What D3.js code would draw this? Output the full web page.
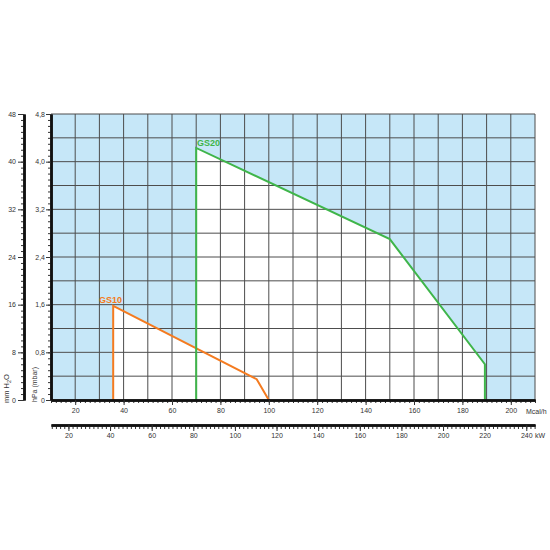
<!DOCTYPE html>
<html>
<head>
  <meta charset="utf-8">
  <title>GS10 / GS20 working range</title>
  <script src="https://d3js.org/d3.v7.min.js"></script>
  <style>
    body { margin: 0; background: white; }
    text { font-family: 'Liberation Sans', Arial, sans-serif; }
    .tick text { fill: #333; font-size: 7px; }
    .axis .domain { stroke: #111; stroke-width: 2.5px; }
    .axis .tick line { stroke: #333; }
    .grid line { stroke: #4d4d4d; stroke-width: 1px; }
  </style>
</head>
<body>
<div id="chart"></div>
<script type="text/javascript">
var width = 550;
var height = 550;

// burner curves (Mcal/h against hPa)
var gs10Mcal = [35.7, 35.7, 95, 100];
var gs10Hpa  = [0, 1.58, 0.35, 0];
var gs20Mcal = [70, 70, 150, 189.3, 189.3];
var gs20Hpa  = [0, 4.23, 2.7, 0.6, 0];

// curve labels, anchored at a data point
var seriesNames = ["GS10", "GS20"];
var seriesColors = ["#f47b20", "#3fb54a"];
var labelMcal = [29.8, 70.3];
var labelHpa  = [1.63, 4.27];

// tick values
var mcalTicks = [20, 40, 60, 80, 100, 120, 140, 160, 180, 200];
var kwTicks   = [20, 40, 60, 80, 100, 120, 140, 160, 180, 200, 220, 240];
var hpaTicks  = [0, 0.8, 1.6, 2.4, 3.2, 4.0, 4.8];
var mmTicks   = [0, 8, 16, 24, 32, 40, 48];

var svg = d3.select("#chart").append("svg").attr("width", width).attr("height", height);

// scales
var x = d3.scaleLinear().domain([10, 210]).range([51, 535]);
var y = d3.scaleLinear().domain([0, 4.8]).range([400, 114]);
var yMm = d3.scaleLinear().domain([0, 48]).range([400, 114]);
var xKw = d3.scaleLinear().domain([10 / 0.86, 210 / 0.86]).range([51, 535]);

// blue background of the plot
svg.append("rect")
  .attr("x", x(10)).attr("y", y(4.8))
  .attr("width", x(210) - x(10)).attr("height", y(0) - y(4.8))
  .attr("fill", "#c6e7f8");

// white working areas
function toPoints(xs, ys) {
  return xs.map(function(v, i) { return [x(v), y(ys[i])]; });
}
var areas = [toPoints(gs10Mcal, gs10Hpa), toPoints(gs20Mcal, gs20Hpa)];
svg.selectAll(".area")
  .data(areas)
  .enter()
  .append("path")
  .attr("class", "area")
  .attr("d", function(d) { return d3.line()(d) + "Z"; })
  .attr("fill", "white");

// grid
var grid = svg.append("g").attr("class", "grid");
grid.selectAll(".v")
  .data(d3.range(20, 211, 10))
  .enter()
  .append("line")
  .attr("x1", function(d) { return x(d); }).attr("x2", function(d) { return x(d); })
  .attr("y1", y(0)).attr("y2", y(4.8));
grid.selectAll(".h")
  .data(d3.range(1, 13).map(function(i) { return i * 0.4; }))
  .enter()
  .append("line")
  .attr("x1", x(10)).attr("x2", x(210))
  .attr("y1", function(d) { return y(d); }).attr("y2", function(d) { return y(d); });

// curves
var lines = [toPoints(gs10Mcal, gs10Hpa), toPoints(gs20Mcal, gs20Hpa)];
svg.selectAll(".curve")
  .data(lines)
  .enter()
  .append("path")
  .attr("class", "curve")
  .attr("d", function(d) { return d3.line()(d); })
  .attr("fill", "none")
  .attr("stroke", function(d, i) { return seriesColors[i]; })
  .attr("stroke-width", 2);

svg.selectAll(".series-label")
  .data(seriesNames)
  .enter()
  .append("text")
  .attr("x", function(d, i) { return x(labelMcal[i]); })
  .attr("y", function(d, i) { return y(labelHpa[i]); })
  .attr("fill", function(d, i) { return seriesColors[i]; })
  .style("font-size", "9px")
  .style("font-weight", "bold")
  .text(function(d) { return d; });

// comma decimals
var commaFmt = function(d) { return d === 0 ? "0" : d3.format(".1f")(d).replace(".", ","); };

// hPa axis (left)
svg.append("g").attr("class", "axis")
  .attr("transform", "translate(" + x(10) + ",0)")
  .call(d3.axisLeft(y).tickValues(d3.range(0, 49).map(function(i) { return i / 10; }))
    .tickSize(3).tickSizeOuter(0).tickFormat(""));
svg.append("g").attr("class", "axis")
  .attr("transform", "translate(" + x(10) + ",0)")
  .call(d3.axisLeft(y).tickValues(hpaTicks).tickSize(5).tickSizeOuter(0).tickPadding(1).tickFormat(commaFmt));

// mm H2O axis (far left)
svg.append("g").attr("class", "axis")
  .attr("transform", "translate(24,0)")
  .call(d3.axisLeft(yMm).tickValues(d3.range(0, 49)).tickSize(3).tickSizeOuter(0).tickFormat(""));
svg.append("g").attr("class", "axis")
  .attr("transform", "translate(24,0)")
  .call(d3.axisLeft(yMm).tickValues(mmTicks).tickSize(6).tickSizeOuter(0).tickPadding(2));

// Mcal/h axis (bottom)
svg.append("g").attr("class", "axis")
  .attr("transform", "translate(0," + y(0) + ")")
  .call(d3.axisBottom(x).tickValues(d3.range(10, 211, 2)).tickSize(3).tickSizeOuter(0).tickFormat(""));
svg.append("g").attr("class", "axis")
  .attr("transform", "translate(0," + y(0) + ")")
  .call(d3.axisBottom(x).tickValues(mcalTicks).tickSize(5).tickSizeOuter(0).tickPadding(3));

// kW axis (below)
svg.append("g").attr("class", "axis")
  .attr("transform", "translate(0,425)")
  .call(d3.axisBottom(xKw).tickValues(d3.range(12, 245, 2)).tickSize(4).tickSizeOuter(0).tickFormat(""));
svg.append("g").attr("class", "axis")
  .attr("transform", "translate(0,425)")
  .call(d3.axisBottom(xKw).tickValues(kwTicks).tickSize(6).tickSizeOuter(0).tickPadding(2));

// unit labels
svg.append("text").attr("x", 526).attr("y", 413.5)
  .style("font-size", "7px").attr("fill", "#333").text("Mcal/h");
svg.append("text").attr("x", 535).attr("y", 437.5)
  .style("font-size", "7px").attr("fill", "#333").text("kW");

var mmLabel = svg.append("text")
  .attr("transform", "translate(8.5,403) rotate(-90)")
  .style("font-size", "7.5px").attr("fill", "#333");
mmLabel.append("tspan").text("mm H");
mmLabel.append("tspan").attr("dy", 2).style("font-size", "5.5px").text("2");
mmLabel.append("tspan").attr("dy", -2).text("O");

svg.append("text")
  .attr("transform", "translate(37,402) rotate(-90)")
  .style("font-size", "7px").attr("fill", "#333")
  .text("hPa (mbar)");
</script>
</body>
</html>
